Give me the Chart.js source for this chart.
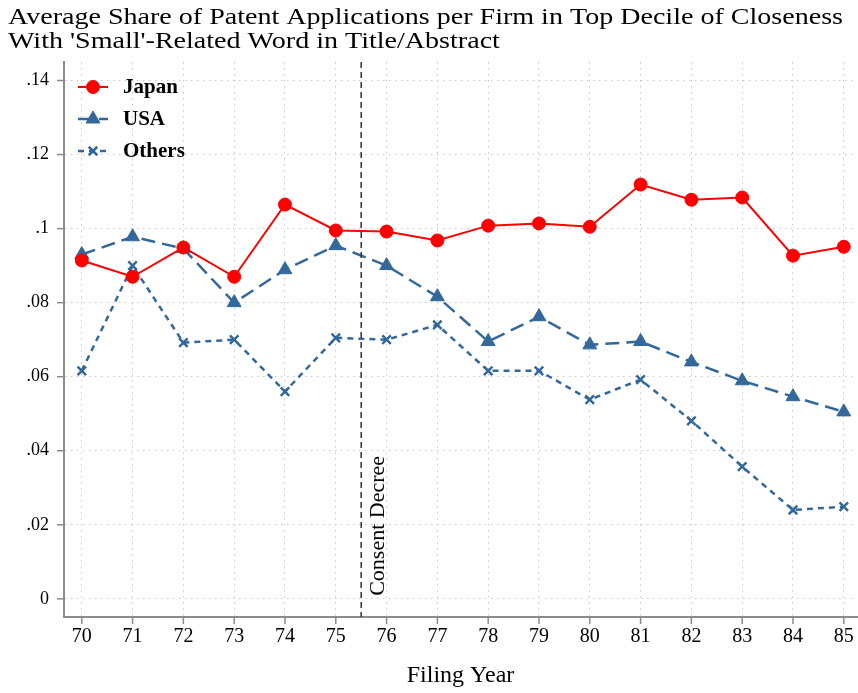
<!DOCTYPE html>
<html>
<head>
<meta charset="utf-8">
<script src="https://cdn.jsdelivr.net/npm/chart.js@4.4.1/dist/chart.umd.min.js"></script>
<style>
  html, body { margin: 0; padding: 0; background: #fff; overflow: hidden; }
  canvas { display: block; }
</style>
</head>
<body>
<!-- canvas a bit wider than the window: Chart.js keeps ~8px on the right, which we push off-screen -->
<canvas id="chart" width="866" height="693"></canvas>
<script>
/* DATA */
const years = [70, 71, 72, 73, 74, 75, 76, 77, 78, 79, 80, 81, 82, 83, 84, 85];
const japan = [0.0914, 0.0870, 0.0949, 0.0870, 0.1065, 0.0995, 0.0992, 0.0968, 0.1008, 0.1014, 0.1005, 0.1119, 0.1078, 0.1084, 0.0927, 0.0951];
const usa = [0.0930, 0.0978, 0.0946, 0.0800, 0.0889, 0.0954, 0.0900, 0.0816, 0.0695, 0.0762, 0.0686, 0.0695, 0.0640, 0.0589, 0.0546, 0.0505];
const others = [0.0616, 0.0900, 0.0692, 0.0700, 0.0560, 0.0705, 0.0700, 0.0740, 0.0616, 0.0616, 0.0538, 0.0592, 0.0481, 0.0357, 0.0240, 0.0249];
const yTicks = [0, 0.02, 0.04, 0.06, 0.08, 0.10, 0.12, 0.14];
const decreeYear = 75.5;

const titleLines = [
  "Average Share of Patent Applications per Firm in Top Decile of Closeness",
  "With 'Small'-Related Word in Title/Abstract"
];

const SERIF = "'Liberation Serif', 'DejaVu Serif', serif";
const BLUE = "#34689a";
const RED = "#ff0000";
const GRID = "#c8c8c8";
const AXIS = "#8c8c8c";

const pts = arr => arr.map((v, i) => ({ x: years[i], y: v }));

/* EXTRAS: title, legend, decree line, tick marks, x labels */
const extras = {
  id: "extras",
  afterDraw(chart) {
    const ctx = chart.ctx;
    const area = chart.chartArea;
    const xs = chart.scales.x, ys = chart.scales.y;

    ctx.save();
    // title (stretched a bit to match the wider original face)
    ctx.fillStyle = "#000";
    ctx.font = "24px " + SERIF;
    ctx.textBaseline = "middle";
    ctx.textAlign = "left";
    const k = 835 / ctx.measureText(titleLines[0]).width;
    ctx.save();
    ctx.translate(8, 0);
    ctx.scale(k, 1);
    ctx.fillText(titleLines[0], 0, 18);
    ctx.fillText(titleLines[1], 0, 42);
    ctx.restore();

    // tick marks
    ctx.strokeStyle = AXIS;
    ctx.lineWidth = 1.5;
    yTicks.forEach(v => {
      const y = ys.getPixelForValue(v);
      ctx.beginPath();
      ctx.moveTo(area.left - 7, y);
      ctx.lineTo(area.left, y);
      ctx.stroke();
    });
    ctx.fillStyle = "#000";
    ctx.font = "20px " + SERIF;
    ctx.textAlign = "center";
    ctx.textBaseline = "middle";
    years.forEach(v => {
      const x = xs.getPixelForValue(v);
      ctx.beginPath();
      ctx.moveTo(x, area.bottom);
      ctx.lineTo(x, area.bottom + 7);
      ctx.stroke();
      ctx.fillText(String(v), x, area.bottom + 20);
    });

    // consent decree line
    const dx = xs.getPixelForValue(decreeYear);
    ctx.strokeStyle = "#333";
    ctx.lineWidth = 1.5;
    ctx.setLineDash([6, 4]);
    ctx.beginPath();
    ctx.moveTo(dx, area.top);
    ctx.lineTo(dx, area.bottom);
    ctx.stroke();
    ctx.setLineDash([]);

    ctx.save();
    ctx.translate(dx + 17, ys.getPixelForValue(0) - 3);
    ctx.rotate(-Math.PI / 2);
    ctx.fillStyle = "#000";
    ctx.font = "22px " + SERIF;
    ctx.textAlign = "left";
    ctx.textBaseline = "middle";
    ctx.fillText("Consent Decree", 0, 0);
    ctx.restore();

    // legend
    chart.data.datasets.forEach((ds, i) => {
      const y = 87 + i * 32;
      ctx.strokeStyle = ds.borderColor;
      ctx.fillStyle = ds.borderColor;
      ctx.lineWidth = ds.borderWidth;
      ctx.setLineDash(ds.borderDash || []);
      ctx.beginPath();
      ctx.moveTo(78, y);
      ctx.lineTo(108, y);
      ctx.stroke();
      ctx.setLineDash([]);
      ctx.lineWidth = ds.pointBorderWidth;
      Chart.helpers.drawPoint(ctx, {
        pointStyle: ds.pointStyle,
        radius: ds.pointRadius,
        rotation: 0,
        borderWidth: ds.pointBorderWidth
      }, 93, y);
      ctx.fillStyle = "#000";
      ctx.font = "bold 21px " + SERIF;
      ctx.textAlign = "left";
      ctx.textBaseline = "middle";
      ctx.fillText(ds.label, 123, y + 1);
    });
    ctx.restore();
  }
};

new Chart(document.getElementById("chart"), {
  type: "line",
  data: {
    datasets: [
      {
        label: "Japan",
        data: pts(japan),
        borderColor: RED,
        backgroundColor: RED,
        borderWidth: 2,
        pointStyle: "circle",
        pointRadius: 6.5,
        pointBorderWidth: 1,
        pointBackgroundColor: RED,
        pointBorderColor: RED
      },
      {
        label: "USA",
        data: pts(usa),
        borderColor: BLUE,
        backgroundColor: BLUE,
        borderWidth: 2.5,
        borderDash: [14, 7],
        pointStyle: "triangle",
        pointRadius: 8,
        pointBorderWidth: 1,
        pointBackgroundColor: BLUE,
        pointBorderColor: BLUE
      },
      {
        label: "Others",
        data: pts(others),
        borderColor: BLUE,
        backgroundColor: BLUE,
        borderWidth: 2.5,
        borderDash: [6, 5],
        pointStyle: "crossRot",
        pointRadius: 6,
        pointBorderWidth: 2.5,
        pointBackgroundColor: BLUE,
        pointBorderColor: BLUE
      }
    ]
  },
  options: {
    responsive: false,
    animation: false,
    layout: { padding: { top: 62, right: 1, left: 0, bottom: 0 } },
    plugins: {
      legend: { display: false },
      title: { display: false },
      tooltip: { enabled: false }
    },
    scales: {
      x: {
        type: "linear",
        min: 69.65,
        max: 85.26,
        afterBuildTicks: s => { s.ticks = years.map(v => ({ value: v })); },
        afterFit: s => { s.height = 76; },
        ticks: { display: false },
        grid: { color: GRID, lineWidth: 1, drawTicks: false },
        border: { display: true, color: AXIS, width: 2, dash: [1.5, 4.5] },
        title: {
          display: true,
          text: "Filing Year",
          color: "#000",
          font: { family: SERIF, size: 24 },
          padding: { top: 6, bottom: 3 }
        }
      },
      y: {
        type: "linear",
        min: -0.0049,
        max: 0.145,
        afterBuildTicks: s => { s.ticks = yTicks.map(v => ({ value: v })); },
        afterFit: s => { s.width = 64; },
        ticks: {
          color: "#000",
          font: { family: SERIF, size: 18 },
          padding: 15,
          callback: v => v === 0 ? "0" : Number(v.toFixed(2)).toString().replace(/^0\./, ".")
        },
        grid: { color: GRID, lineWidth: 1, drawTicks: false },
        border: { display: true, color: AXIS, width: 2, dash: [1.5, 4.5] }
      }
    }
  },
  plugins: [extras]
});
</script>
</body>
</html>
